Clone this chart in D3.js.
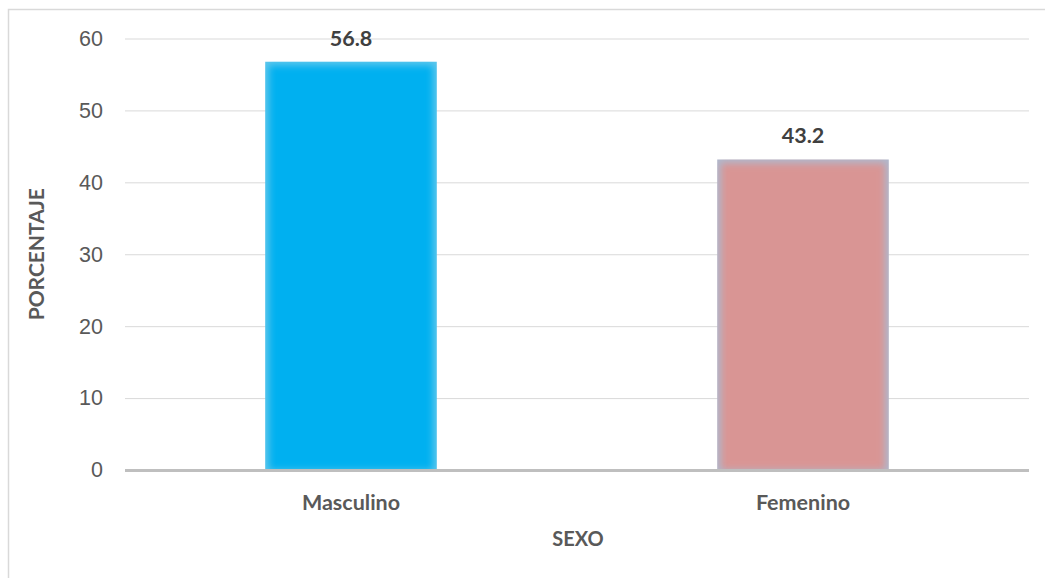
<!DOCTYPE html>
<html>
<head>
<meta charset="utf-8">
<script src="https://cdn.jsdelivr.net/npm/d3@7"></script>
<style>
  html, body { margin: 0; padding: 0; background: #fff; }
  svg { display: block; font-family: Lato, "Open Sans", "Liberation Sans", sans-serif; }
</style>
</head>
<body>
<svg id="chart" width="1045" height="578"></svg>
<script>
// Distribución por sexo (porcentaje)
const categories = ["Masculino", "Femenino"];
const values = [56.8, 43.2];
const yTicks = [0, 10, 20, 30, 40, 50, 60];
const barColors = ["#00b0f0", "#d99594"];
const edgeColors = ["#5cc6ec", "#b0b8cc"];

const svg = d3.select("#chart");
const W = 1045, H = 578;
const plot = { left: 125, right: 1029, top: 38.5, bottom: 470 };

// Chart frame
svg.append("rect")
  .attr("x", 8.5).attr("y", 9.5)
  .attr("width", W + 10).attr("height", H + 10)
  .attr("fill", "none").attr("stroke", "#d9d9d9").attr("stroke-width", 1.5);

const x = d3.scaleBand()
  .domain(categories)
  .range([plot.left, plot.right])
  .paddingInner(0.62).paddingOuter(0.31);

const y = d3.scaleLinear().domain([0, 60]).range([plot.bottom, plot.top]);

// Gridlines and y labels via axis
const yAxis = d3.axisLeft(y).tickValues(yTicks)
  .tickSize(-(plot.right - plot.left)).tickPadding(22).tickFormat(d3.format("d"));
const gy = svg.append("g").attr("transform", `translate(${plot.left},0)`).call(yAxis);
gy.select(".domain").remove();
gy.selectAll(".tick line").attr("stroke", "#d9d9d9").attr("stroke-width", 1);
gy.selectAll(".tick text").attr("fill", "#595959").attr("font-size", 21.5);

// Soft edge filter for bars
const defs = svg.append("defs");
defs.append("filter").attr("id", "soft")
  .attr("x", "-10%").attr("y", "-10%").attr("width", "120%").attr("height", "120%")
  .append("feGaussianBlur").attr("stdDeviation", 3.5);

categories.forEach((c, i) => {
  const bx = x(c), bw = x.bandwidth(), by = y(values[i]), bh = y(0) - y(values[i]);
  defs.append("clipPath").attr("id", "clip" + i)
    .append("rect").attr("x", bx).attr("y", by).attr("width", bw).attr("height", bh);
  const g = svg.append("g").attr("clip-path", `url(#clip${i})`);
  g.append("rect").attr("x", bx).attr("y", by).attr("width", bw).attr("height", bh)
    .attr("fill", edgeColors[i]);
  g.append("rect").attr("x", bx + 4).attr("y", by + 4).attr("width", bw - 8).attr("height", bh - 4)
    .attr("fill", barColors[i]).attr("filter", "url(#soft)");
});

// Baseline
svg.append("line")
  .attr("x1", plot.left).attr("x2", plot.right)
  .attr("y1", y(0) + 0.5).attr("y2", y(0) + 0.5)
  .attr("stroke", "#bfbfbf").attr("stroke-width", 3);

// Value labels
svg.selectAll(".val").data(values).join("text")
  .attr("x", (d, i) => x(categories[i]) + x.bandwidth() / 2)
  .attr("y", d => y(d) - 16)
  .attr("text-anchor", "middle")
  .attr("font-size", 21.5).attr("font-weight", "bold").attr("fill", "#404040")
  .text(d => d.toFixed(1));

// Category labels
svg.selectAll(".cat").data(categories).join("text")
  .attr("x", d => x(d) + x.bandwidth() / 2)
  .attr("y", 510)
  .attr("text-anchor", "middle")
  .attr("font-size", 21.5).attr("font-weight", "bold").attr("fill", "#595959")
  .text(d => d);

// Axis titles
svg.append("text")
  .attr("x", (plot.left + plot.right) / 2 + 1).attr("y", 546)
  .attr("text-anchor", "middle")
  .attr("font-size", 20).attr("font-weight", "bold").attr("fill", "#595959")
  .text("SEXO");

svg.append("text")
  .attr("transform", `translate(44,${(plot.top + plot.bottom) / 2}) rotate(-90)`)
  .attr("text-anchor", "middle")
  .attr("font-size", 21).attr("font-weight", "bold").attr("fill", "#595959")
  .text("PORCENTAJE");
</script>
</body>
</html>
